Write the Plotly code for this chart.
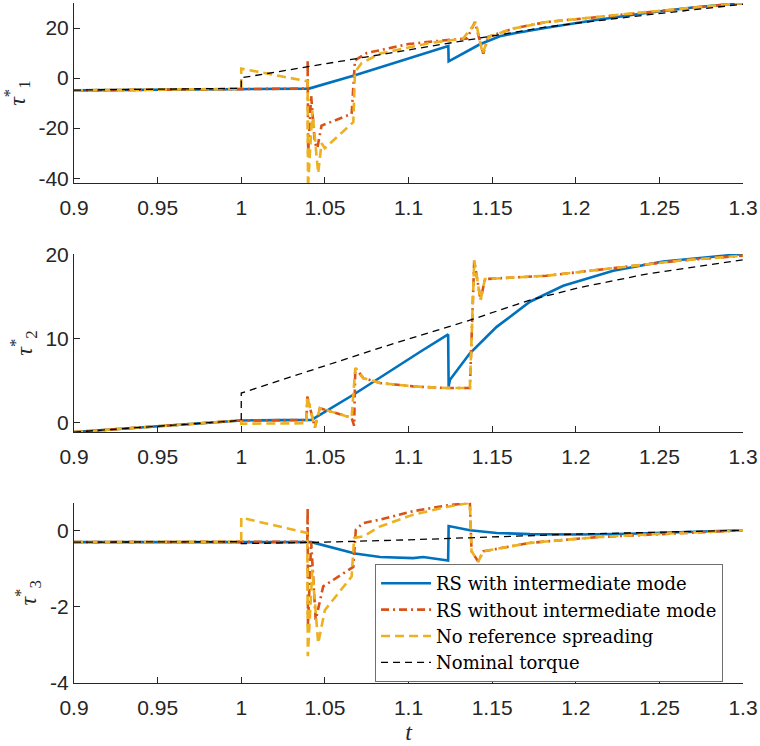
import plotly.graph_objects as go
from plotly.subplots import make_subplots

# ---- tau_1* ----
t1_nom = [0.9, 1.0, 1.0, 1.155, 1.183, 1.242, 1.3]
v1_nom = [-4.8, -4.1, 0.1, 17.5, 20.5, 25.2, 29.5]

t1_rs = [0.9, 1.0, 1.0405, 1.068, 1.093, 1.1238, 1.1240, 1.1327, 1.1427, 1.1546,
         1.1626, 1.1825, 1.21, 1.242, 1.27, 1.3]
v1_rs = [-4.9, -4.3, -4.2, 1.1, 6.4, 12.8, 6.7, 9.8, 13.5, 16.7,
         17.8, 20.1, 23.0, 26.0, 28.2, 30.0]

t1_rsno = [0.9, 1.0, 1.0397, 1.0397, 1.0400, 1.0418, 1.0440, 1.0455, 1.0480, 1.066,
           1.068, 1.075, 1.09, 1.10, 1.12, 1.135, 1.1397, 1.1447, 1.1477, 1.1626,
           1.1825, 1.242, 1.3]
v1_rsno = [-4.9, -4.3, -4.2, 7.3, -30, -7, -26, -28, -19, -14.3,
           7.1, 10.0, 12.3, 13.6, 15.0, 15.8, 22.4, 9.8, 16.5, 19.8,
           22.4, 26.4, 30.0]

t1_nors = [0.9, 1.0, 1.0, 1.0397, 1.0399, 1.0425, 1.046, 1.048, 1.050, 1.067,
           1.068, 1.072, 1.083, 1.1128, 1.1327, 1.1403, 1.1443, 1.148, 1.1626,
           1.1825, 1.242, 1.3]
v1_nors = [-4.9, -4.3, 3.8, -1.3, -44, -13, -38, -26, -28, -17.6,
           2.4, 6.0, 9.8, 14.0, 15.8, 22.4, 9.8, 16.5, 19.8,
           22.4, 26.4, 30.0]

# ---- tau_2* ----
t2_nom = [0.9, 1.0, 1.0, 1.083, 1.1367, 1.1726, 1.2025, 1.2423, 1.3]
v2_nom = [-1.15, 0.24, 3.5, 8.9, 12.2, 14.6, 16.1, 17.7, 19.4]

t2_rs = [0.9, 1.0, 1.042, 1.067, 1.1068, 1.1237, 1.1240, 1.1248, 1.1367, 1.1527,
         1.1726, 1.1925, 1.2224, 1.2522, 1.3]
v2_rs = [-1.15, 0.24, 0.3, 3.3, 8.4, 10.5, 4.3, 5.1, 8.25, 11.4,
         14.4, 16.3, 18.1, 19.2, 20.1]

t2_rsno = [0.9, 1.0, 1.039, 1.0395, 1.044, 1.047, 1.066, 1.0675, 1.0682, 1.073,
           1.083, 1.1028, 1.1227, 1.1367, 1.1393, 1.1431, 1.1457, 1.1825, 1.2224,
           1.2622, 1.3]
v2_rsno = [-1.15, 0.24, 0.3, 3.1, -0.6, 1.7, 0.55, -0.4, 6.5, 5.3,
           4.7, 4.3, 4.1, 4.1, 19.3, 14.6, 17.1, 17.5, 18.4,
           19.3, 19.9]

t2_nors = [0.9, 1.0, 1.0, 1.039, 1.0395, 1.044, 1.047, 1.066, 1.0682, 1.073,
           1.083, 1.1028, 1.1227, 1.1367, 1.1393, 1.1431, 1.1457, 1.1825, 1.2224,
           1.2622, 1.3]
v2_nors = [-1.15, 0.24, -0.15, -0.1, 3.1, -0.6, 1.7, 0.55, 6.5, 5.3,
           4.7, 4.3, 4.1, 4.1, 19.3, 14.6, 17.1, 17.5, 18.4,
           19.3, 19.9]

# ---- tau_3* ----
t3_nom = [0.9, 1.0, 1.0, 1.05, 1.1, 1.15, 1.2, 1.25, 1.3]
v3_nom = [-0.31, -0.30, -0.35, -0.31, -0.25, -0.17, -0.10, -0.05, 0.0]

t3_rs = [0.9, 1.0, 1.042, 1.068, 1.083, 1.1028, 1.1088, 1.1237, 1.1240, 1.1367,
         1.1527, 1.1726, 1.2025, 1.2324, 1.3]
v3_rs = [-0.31, -0.30, -0.31, -0.61, -0.70, -0.73, -0.70, -0.79, 0.11, 0.0,
         -0.07, -0.10, -0.11, -0.09, 0.0]

t3_rsno = [0.9, 1.0, 1.0395, 1.0397, 1.0399, 1.0418, 1.0445, 1.049, 1.067, 1.0685,
           1.073, 1.083, 1.1028, 1.1227, 1.1367, 1.1377, 1.1417, 1.1447, 1.1726,
           1.2124, 1.2522, 1.3]
v3_rsno = [-0.31, -0.30, -0.30, 0.59, -2.5, -0.3, -2.35, -1.47, -0.96, 0.02,
           0.19, 0.28, 0.50, 0.65, 0.72, -0.55, -0.82, -0.55, -0.33,
           -0.18, -0.09, 0.0]

t3_nors = [0.9, 1.0, 1.0, 1.0395, 1.0398, 1.0425, 1.046, 1.050, 1.066, 1.0675,
           1.073, 1.083, 1.1028, 1.1227, 1.1367, 1.1377, 1.1417, 1.1447, 1.1726,
           1.2124, 1.2522, 1.3]
v3_nors = [-0.31, -0.30, 0.33, -0.07, -3.3, -1.03, -2.96, -2.09, -1.21, -0.2,
           -0.16, 0.10, 0.41, 0.61, 0.72, -0.55, -0.82, -0.55, -0.33,
           -0.18, -0.09, 0.0]

x_ticks = [0.9, 0.95, 1.0, 1.05, 1.1, 1.15, 1.2, 1.25, 1.3]
x_ticktext = ["0.9", "0.95", "1", "1.05", "1.1", "1.15", "1.2", "1.25", "1.3"]
y_ticks = [[-40, -20, 0, 20], [0, 10, 20], [-4, -2, 0]]
y_ticktext = [["-40", "-20", "0", "20"], ["0", "10", "20"], ["-4", "-2", "0"]]
y_ranges = [[-42, 30], [-1.15, 20.1], [-4, 0.72]]
y_titles = ["<i>τ</i><sup>*</sup><sub>1</sub>", "<i>τ</i><sup>*</sup><sub>2</sub>",
            "<i>τ</i><sup>*</sup><sub>3</sub>"]

names = ["RS with intermediate mode", "RS without intermediate mode",
         "No reference spreading", "Nominal torque"]
colors = ["#0072BD", "#D95319", "#EDB120", "#000000"]
dashes = ["solid", "8px,4px,2px,4px", "9px,5px", "7px,5px"]
widths = [2.6, 2.6, 2.6, 1.3]

series = [
    [(t1_rs, v1_rs), (t1_rsno, v1_rsno), (t1_nors, v1_nors), (t1_nom, v1_nom)],
    [(t2_rs, v2_rs), (t2_rsno, v2_rsno), (t2_nors, v2_nors), (t2_nom, v2_nom)],
    [(t3_rs, v3_rs), (t3_rsno, v3_rsno), (t3_nors, v3_nors), (t3_nom, v3_nom)],
]

fig = make_subplots(rows=3, cols=1)

for r, row in enumerate(series):
    for k, (t, v) in enumerate(row):
        fig.add_trace(go.Scatter(
            x=t, y=v, mode="lines", name=names[k],
            line=dict(color=colors[k], width=widths[k], dash=dashes[k]),
            showlegend=(r == 2),
        ), row=r + 1, col=1)

axis_col = "#262626"
tick_font = dict(family="Liberation Sans, Arial, sans-serif", size=21, color=axis_col)
title_font = dict(family="Liberation Serif, serif", size=24, color=axis_col)
domains = [[0.735, 1.0], [0.369, 0.631], [0.0, 0.265]]

for r in range(3):
    fig.update_xaxes(
        range=[0.9, 1.3], tickvals=x_ticks, ticktext=x_ticktext,
        ticks="inside", ticklen=6, tickcolor=axis_col, tickfont=tick_font,
        showline=True, linecolor=axis_col, linewidth=1, automargin=False,
        showgrid=False, zeroline=False, ticklabelstandoff=6,
        row=r + 1, col=1)
    fig.update_yaxes(
        range=y_ranges[r], tickvals=y_ticks[r], ticktext=y_ticktext[r],
        ticks="inside", ticklen=6, tickcolor=axis_col, tickfont=tick_font,
        showline=True, linecolor=axis_col, linewidth=1, automargin=False,
        showgrid=False, zeroline=False, domain=domains[r],
        title=dict(text=y_titles[r], standoff=6, font=title_font),
        row=r + 1, col=1)

fig.update_xaxes(title=dict(text="<i>t</i>", standoff=4, font=title_font), row=3, col=1)

fig.update_layout(
    width=760, height=746,
    margin=dict(l=74, r=17, t=3, b=63),
    plot_bgcolor="white", paper_bgcolor="white",
    legend=dict(x=0.45, y=0.175, xanchor="left", yanchor="top",
                bgcolor="white", bordercolor="#6f6f6f", borderwidth=1,
                font=dict(family="DejaVu Serif, serif", size=18, color="black"),
                itemwidth=50, tracegroupgap=0),
)

# page body margin off so the figure sits at the window's corner
fig.write_html("out.html", config={"displayModeBar": False},
               post_script="document.body.style.margin='0';")
